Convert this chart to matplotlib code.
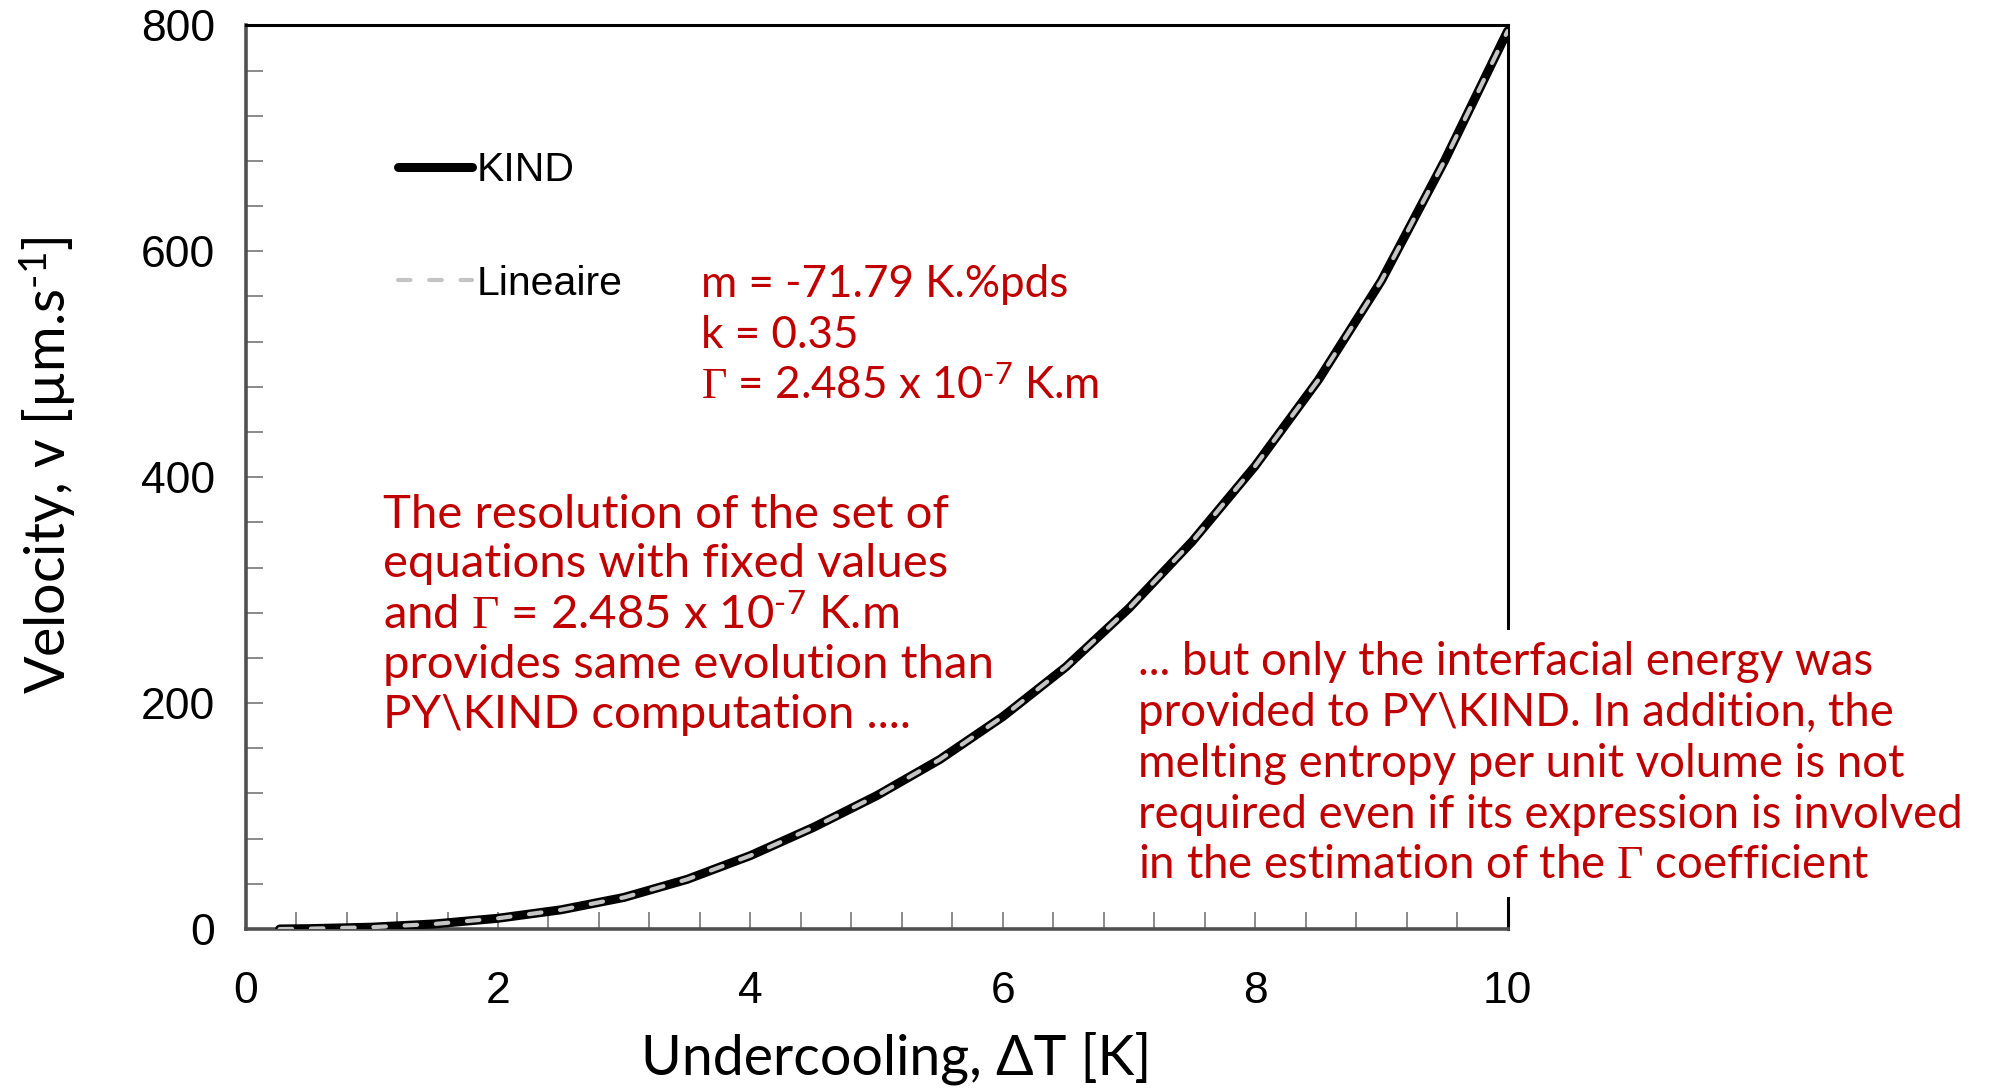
import matplotlib
matplotlib.use("Agg")
import matplotlib.pyplot as plt
from matplotlib.ticker import MultipleLocator
from matplotlib import font_manager

# curve
dT = [0.27, 0.5, 1.0, 1.5, 2.0, 2.5, 3.0, 3.5, 4.0, 4.5, 5.0,
      5.5, 6.0, 6.5, 7.0, 7.5, 8.0, 8.5, 9.0, 9.5, 10.0]
v_kind = [0.0, 0.3, 1.6, 4.5, 9.5, 17, 28, 44, 65, 90, 118,
          150, 188, 232, 284, 343, 410, 486, 574, 680, 795]
v_lineaire = [0.0, 0.3, 1.6, 4.5, 9.5, 17, 28, 44, 65, 90, 118,
              150, 188, 232, 284, 343, 410, 486, 574, 680, 795]

series_names = ["KIND", "Lineaire"]
x_ticks = [0, 2, 4, 6, 8, 10]
y_ticks = [0, 200, 400, 600, 800]

sup7 = "$^{\\mathsf{\u20107}}$"
gam = "$\\mathrm{\\Gamma}$"
params_txt = "m = -71.79 K.%pds\nk = 0.35\n" + gam + " = 2.485 x 10" + sup7 + " K.m"
left_txt = ("The resolution of the set of\nequations with fixed values\n"
            "and " + gam + " = 2.485 x 10" + sup7 + " K.m\n"
            "provides same evolution than\nPY\\KIND computation ....")
right_txt = ("... but only the interfacial energy was\nprovided to PY\\KIND. In addition, the\n"
             "melting entropy per unit volume is not\nrequired even if its expression is involved\n"
             "in the estimation of the " + gam + " coefficient")

names = {f.name for f in font_manager.fontManager.ttflist}
narrow = "Liberation Sans Narrow" if "Liberation Sans Narrow" in names else "Liberation Sans"
gothic = "Lato"

plt.rcParams["mathtext.fontset"] = "custom"
plt.rcParams["mathtext.rm"] = "Liberation Serif"
plt.rcParams["mathtext.sf"] = gothic
plt.rcParams["mathtext.it"] = "Liberation Serif:italic"

W, H = 1995, 1089
fig = plt.figure(figsize=(W / 100, H / 100), dpi=100)
ax = fig.add_axes([245.6 / W, 1 - 929 / H, 1262 / W, 903.6 / H])

red = "#C00000"

ax.plot(dT, v_kind, color="black", lw=6.5, solid_capstyle="round", label=series_names[0], zorder=3)
ax.plot(dT, v_lineaire, color="#c4c4c4", lw=3, dashes=(3, 4.5), dash_capstyle="round",
        label=series_names[1], zorder=4)

ax.set_xlim(0, 10)
ax.set_ylim(0, 800)
ax.set_xticks(x_ticks)
ax.set_yticks(y_ticks)
ax.xaxis.set_minor_locator(MultipleLocator(0.4))
ax.yaxis.set_minor_locator(MultipleLocator(40))
ax.tick_params(which="both", direction="in", length=12, width=1.4, color="#8a8a8a")
ax.tick_params(axis="y", which="major", pad=22)
ax.tick_params(axis="x", which="major", pad=30)
for lab in ax.get_xticklabels() + ax.get_yticklabels():
    lab.set_fontfamily(narrow)
    lab.set_fontsize(32)

for s in ["top", "right"]:
    ax.spines[s].set_color("black")
    ax.spines[s].set_linewidth(2.2)
for s in ["left", "bottom"]:
    ax.spines[s].set_color("#505050")
    ax.spines[s].set_linewidth(2.6)

ax.set_xlabel("Undercooling, ΔT [K]", fontfamily=gothic, fontsize=40, va="center")
ax.xaxis.set_label_coords((896 - 245.6) / 1262, (929 - 1058.6) / 903.6)
ax.set_ylabel("Velocity, v [µm.s$^{\\mathsf{\u20101}}$]", fontfamily=gothic, fontsize=40, va="center")
ax.yaxis.set_label_coords((48 - 245.6) / 1262, (929 - 465) / 903.6)

leg = ax.legend(loc="upper left", bbox_to_anchor=(398 / W, 1 - 151 / H), bbox_transform=fig.transFigure,
                frameon=False, borderpad=0, borderaxespad=0, handlelength=1.8, handletextpad=0.12,
                labelspacing=1.85, prop={"family": narrow, "size": 29.5})


def px(x, y):
    return x / W, 1 - y / H


fig.text(*px(701, 264), params_txt, color=red, fontfamily=gothic, fontsize=31.7,
         va="top", ha="left", linespacing=1.31)
fig.text(*px(383, 494), left_txt, color=red, fontfamily=gothic, fontsize=34,
         va="top", ha="left", linespacing=1.22)
fig.text(*px(1138, 641), right_txt, color=red, fontfamily=gothic, fontsize=32.9,
         va="top", ha="left", linespacing=1.26,
         bbox=dict(facecolor="white", edgecolor="none", pad=8), zorder=10)

fig.savefig("out.png", dpi=100)
